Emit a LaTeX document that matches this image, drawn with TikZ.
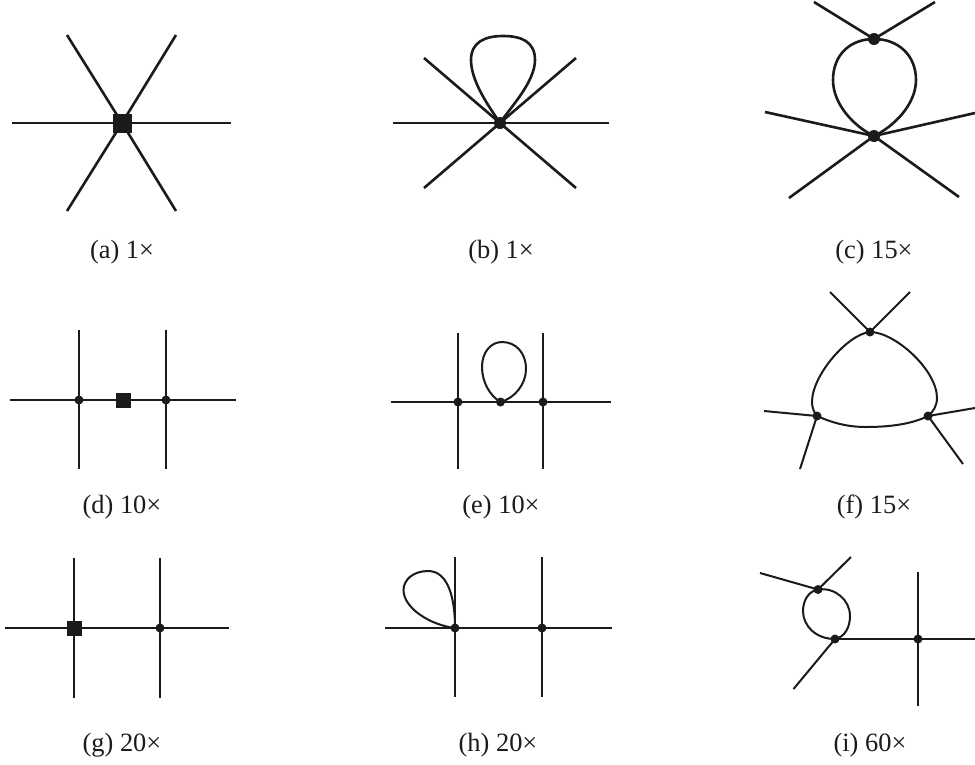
\documentclass[tikz,border=0pt]{standalone}
\usepackage{fontspec}
\setmainfont{Liberation Serif}
\definecolor{ink}{HTML}{1C1A1B}
\tikzset{
  thick1/.style={line width=2.6pt,draw=ink},
  thick2/.style={line width=2pt,draw=ink},
  sqbig/.style={rectangle,fill=ink,inner sep=0pt,minimum size=19pt},
  sqsmall/.style={rectangle,fill=ink,inner sep=0pt,minimum size=15pt},
  dotbig/.style={circle,fill=ink,inner sep=0pt,minimum size=12pt},
  dotsmall/.style={circle,fill=ink,inner sep=0pt,minimum size=9pt},
  captext/.style={text=ink,font=\fontsize{26.4}{30}\selectfont,inner sep=0pt,anchor=center}
}
\begin{document}
\begin{tikzpicture}[x=1pt,y=-1pt]
\useasboundingbox (0,0) rectangle (975,764);
\fill[white] (0,0) rectangle (975,764);
% (a)
\node[sqbig] (a) at (122,123) {};
\coordinate (a1) at (12,123);\coordinate (a2) at (231,123);\coordinate (a3) at (67,35);
\coordinate (a4) at (176,35);\coordinate (a5) at (67,211);\coordinate (a6) at (176,211);
\foreach \e in {a1,a2,a3,a4,a5,a6} \draw[thick1] (a.center) -- (\e);
% (b)
\node[dotbig] (b) at (500,123) {};
\coordinate (b1) at (393,123);\coordinate (b2) at (609,123);\coordinate (b3) at (424,58);
\coordinate (b4) at (576,58);\coordinate (b5) at (424,188);\coordinate (b6) at (576,188);
\foreach \e in {b1,b2,b3,b4,b5,b6} \draw[thick1] (b.center) -- (\e);
\draw[thick1] (b.center) .. controls (490,108) and (471,82) .. (471,60)
  .. controls (471,42) and (485,36) .. (503,36)
  .. controls (522,36) and (535,42) .. (535,60)
  .. controls (535,82) and (510,108) .. (b.center);
% (c)
\node[dotbig] (c1) at (874,39) {};
\node[dotbig] (c2) at (874,136) {};
\coordinate (ca) at (814,2);\coordinate (cb) at (935,2);
\coordinate (cc) at (765,112);\coordinate (cd) at (975,113);
\coordinate (ce) at (789,198);\coordinate (cf) at (959,197);
\foreach \e in {ca,cb} \draw[thick1] (c1.center) -- (\e);
\foreach \e in {cc,cd,ce,cf} \draw[thick1] (c2.center) -- (\e);
\draw[thick1] (c1.center) .. controls (850,39) and (833,55) .. (833,80)
  .. controls (833,105) and (855,127) .. (c2.center);
\draw[thick1] (c1.center) .. controls (898,39) and (916,55) .. (916,80)
  .. controls (916,105) and (893,127) .. (c2.center);
% (d)
\node[dotsmall] (d1) at (79,400) {};
\node[dotsmall] (d2) at (166,400) {};
\node[sqsmall] (d3) at (123,400) {};
\coordinate (dl) at (10,400);\coordinate (dr) at (236,400);
\coordinate (dt1) at (79,330);\coordinate (db1) at (79,469);
\coordinate (dt2) at (166,330);\coordinate (db2) at (166,469);
\draw[thick2] (dl) -- (d1.center) -- (d3.center) -- (d2.center) -- (dr);
\draw[thick2] (dt1) -- (d1.center) -- (db1);
\draw[thick2] (dt2) -- (d2.center) -- (db2);
% (e)
\node[dotsmall] (e1) at (458,402) {};
\node[dotsmall] (e2) at (500.5,402) {};
\node[dotsmall] (e3) at (543,402) {};
\coordinate (el) at (391,402);\coordinate (er) at (611,402);
\coordinate (et1) at (458,333);\coordinate (eb1) at (458,469);
\coordinate (et2) at (543,333);\coordinate (eb2) at (543,469);
\draw[thick2] (el) -- (e1.center) -- (e2.center) -- (e3.center) -- (er);
\draw[thick2] (et1) -- (e1.center) -- (eb1);
\draw[thick2] (et2) -- (e3.center) -- (eb2);
\draw[thick2] (e2.center) .. controls (490,396) and (482,382) .. (482,367)
  .. controls (482,352) and (491,342) .. (502,342)
  .. controls (516,342) and (526,353) .. (526,369)
  .. controls (526,384) and (515,398) .. (e2.center);
% (f)
\node[dotsmall] (f1) at (870,332) {};
\node[dotsmall] (f2) at (817,416) {};
\node[dotsmall] (f3) at (928,416) {};
\coordinate (fa) at (830,292);\coordinate (fb) at (910,292);
\coordinate (fc) at (764,411);\coordinate (fd) at (800,469);
\coordinate (fe) at (975,408);\coordinate (ff) at (963,464);
\foreach \e in {fa,fb} \draw[thick2] (f1.center) -- (\e);
\foreach \e in {fc,fd} \draw[thick2] (f2.center) -- (\e);
\foreach \e in {fe,ff} \draw[thick2] (f3.center) -- (\e);
\draw[thick2] (f1.center) .. controls (848,334) and (812,375) .. (812,402)
  .. controls (812,408) and (814,412) .. (f2.center);
\draw[thick2] (f1.center) .. controls (895,332) and (937,370) .. (937,398)
  .. controls (937,406) and (933,412) .. (f3.center);
\draw[thick2] (f2.center) .. controls (835,424) and (850,427) .. (866,427)
  .. controls (890,427) and (912,424) .. (f3.center);
% (g)
\node[sqsmall] (g1) at (74,628) {};
\node[dotsmall] (g2) at (160,628) {};
\coordinate (gl) at (5,628);\coordinate (gr) at (229,628);
\coordinate (gt1) at (74,558);\coordinate (gb1) at (74,698);
\coordinate (gt2) at (160,558);\coordinate (gb2) at (160,698);
\draw[thick2] (gl) -- (g1.center) -- (g2.center) -- (gr);
\draw[thick2] (gt1) -- (g1.center) -- (gb1);
\draw[thick2] (gt2) -- (g2.center) -- (gb2);
% (h)
\node[dotsmall] (h1) at (455,628) {};
\node[dotsmall] (h2) at (542,628) {};
\coordinate (hl) at (385,628);\coordinate (hr) at (611.5,628);
\coordinate (ht1) at (455,557);\coordinate (hb1) at (455,697);
\coordinate (ht2) at (542,557);\coordinate (hb2) at (542,697);
\draw[thick2] (hl) -- (h1.center) -- (h2.center) -- (hr);
\draw[thick2] (ht1) -- (h1.center) -- (hb1);
\draw[thick2] (ht2) -- (h2.center) -- (hb2);
\draw[thick2] (h1.center) .. controls (455,600) and (449,571) .. (428,571)
  .. controls (413,571) and (403.5,580) .. (403.5,590)
  .. controls (403.5,608) and (430,625) .. (h1.center);
% (i)
\node[dotsmall] (i1) at (818,589.5) {};
\node[dotsmall] (i2) at (835,639) {};
\node[dotsmall] (i3) at (918,639) {};
\coordinate (ia) at (760,573);\coordinate (ib) at (851,557);
\coordinate (ic) at (793.5,689);\coordinate (id) at (975,639);
\coordinate (it) at (918,572);\coordinate (ibm) at (918,706);
\foreach \e in {ia,ib} \draw[thick2] (i1.center) -- (\e);
\draw[thick2] (i2.center) -- (ic);
\draw[thick2] (i2.center) -- (i3.center) -- (id);
\draw[thick2] (it) -- (i3.center) -- (ibm);
\draw[thick2] (i1.center) .. controls (809,591) and (803,600) .. (803,611)
  .. controls (803,626) and (816,639) .. (i2.center);
\draw[thick2] (i1.center) .. controls (835,587) and (850,600) .. (850,616)
  .. controls (850,627) and (845,637) .. (i2.center);
% captions
\node[captext] (ca1) at (122,252) {(a) 1×};
\node[captext] (ca2) at (501,252) {(b) 1×};
\node[captext] (ca3) at (874,252) {(c) 15×};
\node[captext] (ca4) at (122,507) {(d) 10×};
\node[captext] (ca5) at (501,507) {(e) 10×};
\node[captext] (ca6) at (874,507) {(f) 15×};
\node[captext] (ca7) at (122,745) {(g) 20×};
\node[captext] (ca8) at (498,745) {(h) 20×};
\node[captext] (ca9) at (870,745) {(i) 60×};
\end{tikzpicture}
\end{document}
